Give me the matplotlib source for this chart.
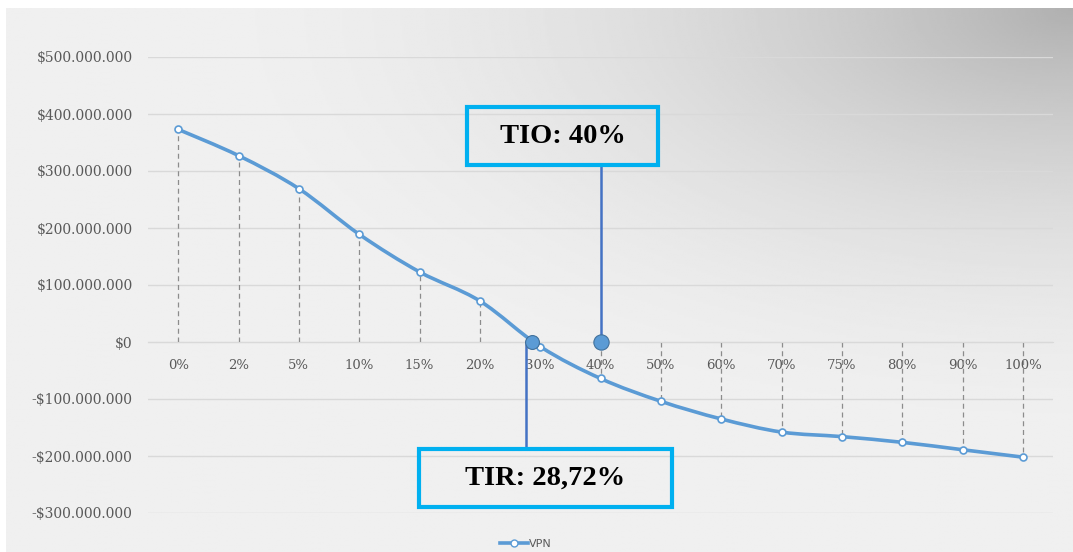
import numpy as np
import matplotlib.pyplot as plt
from matplotlib.path import Path
from matplotlib.patches import PathPatch, Rectangle
from matplotlib.ticker import FuncFormatter, MultipleLocator

tasas = ['0%', '2%', '5%', '10%', '15%', '20%', '30%', '40%', '50%',
         '60%', '70%', '75%', '80%', '90%', '100%']
vpn = [373e6, 327e6, 269e6, 189e6, 123e6, 72e6, -8e6, -64e6, -104e6,
       -135e6, -158e6, -166e6, -176e6, -189e6, -202e6]
tio = 40.0
tir = 28.72

AZUL = '#5b9bd5'
GRIS = '#595959'
FUENTE_CAJA = 'Liberation Serif'

fig = plt.figure(figsize=(10.73, 5.52), dpi=100)

# fondo: sombra eliptica desde la esquina superior derecha
bg = fig.add_axes([6 / 1073, 0, 1 - 6 / 1073, 1 - 8 / 552], zorder=-10)
px_x, px_y = np.meshgrid(np.linspace(6, 1073, 500), np.linspace(8, 552, 260))
d = np.hypot((1073 - px_x) / 930, (px_y - 8) / 460)
shade = 240 - 64 * np.clip(1 - d, 0, 1) ** 2
bg.imshow(shade, cmap='gray', vmin=0, vmax=255, aspect='auto',
          extent=[0, 1, 0, 1], interpolation='bilinear')
bg.axis('off')

ax = fig.add_axes([148 / 1073, 39 / 552, 905 / 1073, 456 / 552])
ax.patch.set_alpha(0)
x = np.arange(len(tasas))
ax.set_xlim(-0.5, len(tasas) - 0.5)
ax.set_ylim(-300e6, 500e6)

ax.yaxis.set_major_locator(MultipleLocator(100e6))
ax.yaxis.set_major_formatter(FuncFormatter(
    lambda v, p: ('-' if v < 0 else '') + '$' + f'{abs(v):,.0f}'.replace(',', '.')))
ax.grid(axis='y', color='#d9d9d9', lw=1)
ax.set_axisbelow(True)
for sp in ['top', 'right', 'left']:
    ax.spines[sp].set_visible(False)
ax.spines['bottom'].set_position(('data', 0))
ax.spines['bottom'].set_color('#d9d9d9')
ax.set_xticks(x)
ax.set_xticklabels(tasas)
ax.tick_params(axis='both', length=0, colors=GRIS)
ax.tick_params(axis='y', labelsize=10, pad=11)
ax.tick_params(axis='x', labelsize=9.5, pad=12)
for lab in ax.get_xticklabels() + ax.get_yticklabels():
    lab.set_family('DejaVu Serif')
    lab.set_color(GRIS)

# lineas de caida hasta el eje
ax.vlines(x, 0, vpn, colors='#8c8c8c', linestyles=(0, (4, 3)), lw=0.9, zorder=2)

# curva suavizada (Bezier tipo Catmull-Rom)
k = 57 / 60.35 / 1e8
px = np.concatenate([[x[0]], x, [x[-1]]]).astype(float)
py = np.concatenate([[vpn[0]], vpn, [vpn[-1]]]) * k
verts = [(px[1], py[1] / k)]
codes = [Path.MOVETO]
for i in range(1, len(px) - 2):
    c1 = (px[i] + (px[i + 1] - px[i - 1]) / 6, py[i] + (py[i + 1] - py[i - 1]) / 6)
    c2 = (px[i + 1] - (px[i + 2] - px[i]) / 6, py[i + 1] - (py[i + 2] - py[i]) / 6)
    verts += [(c1[0], c1[1] / k), (c2[0], c2[1] / k), (px[i + 1], py[i + 1] / k)]
    codes += [Path.CURVE4] * 3
ax.add_patch(PathPatch(Path(verts, codes), fill=False, ec=AZUL, lw=2.6,
                       capstyle='round', zorder=3))
ax.plot(x, vpn, ls='none', marker='o', ms=5, mfc='white', mec=AZUL, mew=1.2,
        zorder=4)
ax.plot([], [], color=AZUL, lw=2.6, marker='o', ms=5, mfc='white', mec=AZUL,
        label='VPN')


def posicion(tasa):
    vals = [float(t.rstrip('%')) for t in tasas]
    return np.interp(tasa, vals, x)


x_tio = posicion(tio)
x_tir = posicion(tir)

# TIO
ax.plot([x_tio, x_tio], [10e6, 310e6], color='#4472c4', lw=1.8, zorder=5)
ax.plot(x_tio, 0, marker='o', ms=11, mfc=AZUL, mec='#41719c', mew=0.8, zorder=6)
ax.add_patch(Rectangle((x_tio - 2.22, 310e6), 3.18, 102e6, fill=False,
                       ec='#00b0f0', lw=3, zorder=6))
ax.text(x_tio - 0.63, 361e6, f'TIO: {tio:.0f}%', ha='center', va='center',
        fontsize=20.5, fontweight='bold', family=FUENTE_CAJA,
        color='black', zorder=7)

# TIR
ax.plot([x_tir - 0.11, x_tir - 0.11], [-6e6, -188e6], color='#4472c4', lw=1.8,
        zorder=5)
ax.plot(x_tir, 0, marker='o', ms=10, mfc=AZUL, mec='#41719c', mew=0.8, zorder=6)
ax.add_patch(Rectangle((x_tir - 1.88, -290e6), 4.19, 102e6, fill=False,
                       ec='#00b0f0', lw=3, zorder=6))
ax.text(x_tir + 0.21, -239e6, 'TIR: ' + f'{tir:.2f}'.replace('.', ',') + '%',
        ha='center', va='center', fontsize=20.5, fontweight='bold',
        family=FUENTE_CAJA, color='black', zorder=7)

fig.legend(loc='center', bbox_to_anchor=(0.49, 0.014), frameon=False,
           fontsize=8, labelcolor=GRIS, handlelength=2.5, handletextpad=0.1)

fig.savefig('out.png', dpi=100)
